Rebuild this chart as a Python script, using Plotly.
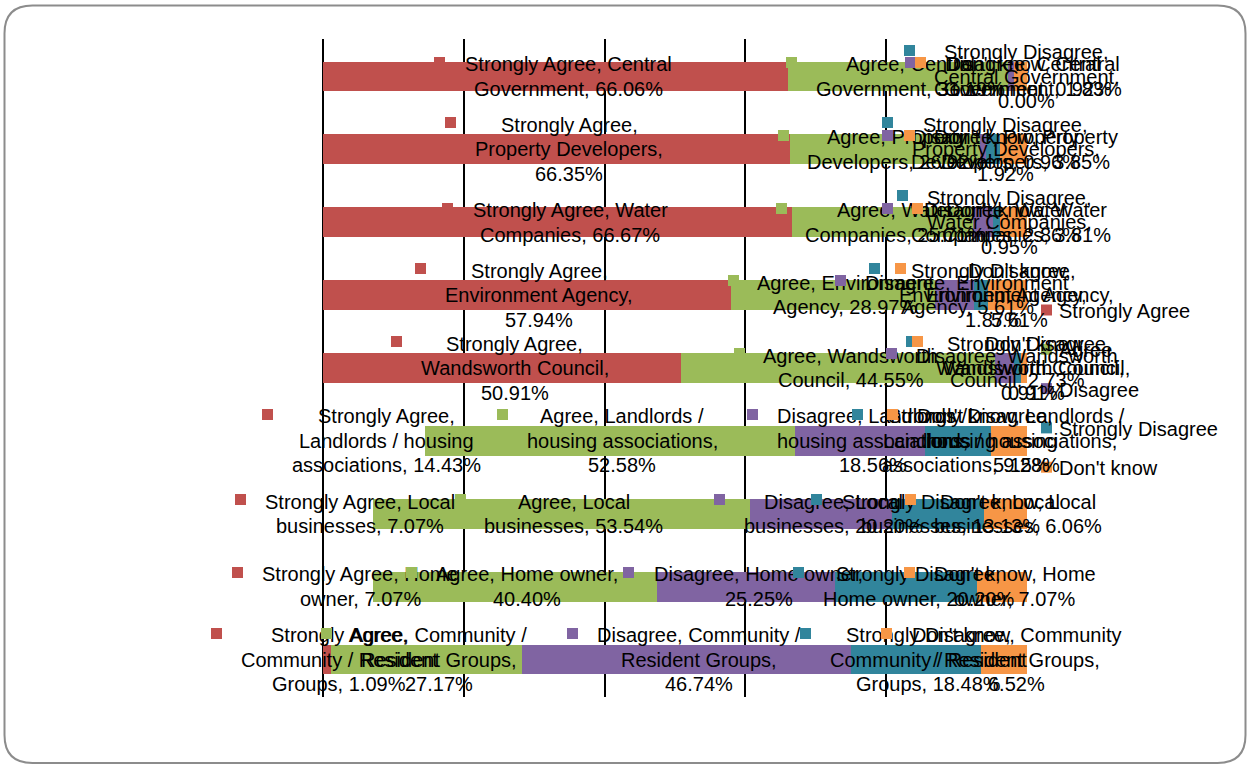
import plotly.graph_objects as go

# ---------------- data ----------------
categories = [
    "Central Government",
    "Property Developers",
    "Water Companies",
    "Environment Agency",
    "Wandsworth Council",
    "Landlords / housing associations",
    "Local businesses",
    "Home owner",
    "Community / Resident Groups",
]
series_names = ["Strongly Agree", "Agree", "Disagree", "Strongly Disagree", "Don't know"]
strongly_agree = [66.06, 66.35, 66.67, 57.94, 50.91, 14.43, 7.07, 7.07, 1.09]
agree = [31.19, 26.92, 25.71, 28.97, 44.55, 52.58, 53.54, 40.40, 27.17]
disagree = [0.92, 0.96, 2.86, 5.61, 2.73, 18.56, 20.20, 25.25, 46.74]
strongly_disagree = [0.00, 1.92, 0.95, 1.87, 0.91, 9.28, 13.13, 20.20, 18.48]
dont_know = [1.83, 3.85, 3.81, 5.61, 0.91, 5.15, 6.06, 7.07, 6.52]
series_values = [strongly_agree, agree, disagree, strongly_disagree, dont_know]
# categories whose "Strongly Agree" bar is drawn without fill in the original
sa_unfilled = ["Landlords / housing associations", "Local businesses", "Home owner"]

# ---------------- style ----------------
colors = ["#C0504D", "#9BBB59", "#8064A2", "#31859C", "#F79646"]
FONT = "Liberation Sans, Arial, sans-serif"
FS = 20
LINE_H = 24.5
W, H = 1250, 767
L, R, T, B = 323, 223, 39, 70

# Arial advance widths (1/1000 em)
AW = {" ": 278, ",": 278, ".": 278, "/": 278, "%": 889, "'": 191,
      "A": 667, "C": 722, "D": 722, "E": 667, "G": 778, "H": 722, "L": 556,
      "P": 667, "R": 722, "S": 667, "W": 944,
      "a": 556, "b": 556, "c": 500, "d": 556, "e": 556, "g": 556, "h": 556,
      "i": 222, "k": 500, "l": 222, "m": 833, "n": 556, "o": 556, "p": 556,
      "r": 333, "s": 500, "t": 278, "u": 556, "v": 500, "w": 722, "y": 500}


def em(s):
    return sum(AW.get(c, 556) for c in s)


def wrap(text, limit=10920):
    words = text.split(" ")
    lines = [words[0]]
    for w in words[1:]:
        cand = lines[-1] + " " + w
        if em(cand) <= limit:
            lines[-1] = cand
        else:
            lines.append(w)
    return lines


fig = go.Figure()
for si, (name, vals) in enumerate(zip(series_names, series_values)):
    if si == 0:
        mcol = ["rgba(0,0,0,0)" if c in sa_unfilled else colors[si] for c in categories]
    else:
        mcol = colors[si]
    fig.add_trace(go.Bar(
        y=categories, x=vals, name=name, orientation="h",
        marker=dict(color=mcol, line=dict(width=0)),
        showlegend=False, hoverinfo="skip",
    ))

annotations = []
shapes = []

# data labels: marker square + wrapped centred text, centred on each segment
cum = [0.0] * len(categories)
for si, (name, vals) in enumerate(zip(series_names, series_values)):
    for ci, cat in enumerate(categories):
        v = vals[ci]
        center = cum[ci] + v / 2.0
        cum[ci] += v
        lines = wrap(f"{name}, {cat}, {v:.2f}%")
        n = len(lines)
        wref = max(em(l) for l in lines) * 21 / 1000.0
        for li, line in enumerate(lines):
            annotations.append(dict(
                x=center, y=cat, xref="x", yref="y", text=line, showarrow=False,
                xanchor="center", yanchor="middle", xshift=12.5,
                yshift=((n - 1) / 2.0 - li) * LINE_H,
                font=dict(family=FONT, size=FS, color="#000000"),
            ))
        top = (n - 1) / 2.0 * LINE_H + 2
        mx0 = -(wref + 25) / 2.0
        # legend-key square of the label (annotation box so it is not clipped)
        annotations.append(dict(
            x=center, y=cat, xref="x", yref="y", text=" ", showarrow=False,
            xanchor="left", yanchor="middle", xshift=mx0, yshift=top,
            width=11, height=11, bgcolor=colors[si], borderpad=0, borderwidth=0,
            font=dict(family=FONT, size=4, color=colors[si]),
        ))

# manual legend
pw, ph = W - L - R, H - T - B


def px_x(px):
    return (px - L) / pw


def px_y(py):
    return (H - B - py) / ph


for si, name in enumerate(series_names):
    ly = 311 + si * 39.3
    annotations.append(dict(
        x=px_x(1057), y=px_y(ly), xref="paper", yref="paper", text=name, showarrow=False,
        xanchor="left", yanchor="middle", font=dict(family=FONT, size=FS, color="#000000"),
    ))
    shapes.append(dict(
        type="rect", xref="paper", yref="paper",
        x0=px_x(1041), x1=px_x(1052), y0=px_y(ly - 6.5), y1=px_y(ly + 4.5),
        fillcolor=colors[si], line=dict(width=0),
    ))

# rounded chart frame
x0f, y0f, x1f, y1f, rr = 4.5, 5.5, 1245.5, 763, 28


def P(px, py):
    return f"{px_x(px):.5f},{px_y(py):.5f}"


path = (f"M{P(x0f + rr, y0f)} L{P(x1f - rr, y0f)} Q{P(x1f, y0f)} {P(x1f, y0f + rr)} "
        f"L{P(x1f, y1f - rr)} Q{P(x1f, y1f)} {P(x1f - rr, y1f)} "
        f"L{P(x0f + rr, y1f)} Q{P(x0f, y1f)} {P(x0f, y1f - rr)} "
        f"L{P(x0f, y0f + rr)} Q{P(x0f, y0f)} {P(x0f + rr, y0f)} Z")
shapes.append(dict(type="path", xref="paper", yref="paper", path=path,
                   line=dict(color="#8C8C8C", width=2), fillcolor="rgba(0,0,0,0)"))

fig.update_layout(
    width=W, height=H,
    margin=dict(l=L, r=R, t=T, b=B, pad=0),
    barmode="stack", bargap=0.59,
    paper_bgcolor="white", plot_bgcolor="white",
    xaxis=dict(range=[0, 100], dtick=20, tick0=0, showticklabels=False, ticks="",
               showgrid=True, gridcolor="#000000", gridwidth=1.5,
               zeroline=True, zerolinecolor="#000000", zerolinewidth=1.5,
               showline=False, fixedrange=True),
    yaxis=dict(type="category", categoryorder="array", categoryarray=categories,
               autorange="reversed", showticklabels=False, ticks="", showgrid=False,
               zeroline=False, showline=False, fixedrange=True),
    annotations=annotations, shapes=shapes,
    font=dict(family=FONT, size=FS, color="#000000"),
    showlegend=False,
)

fig.write_html("out.html")
